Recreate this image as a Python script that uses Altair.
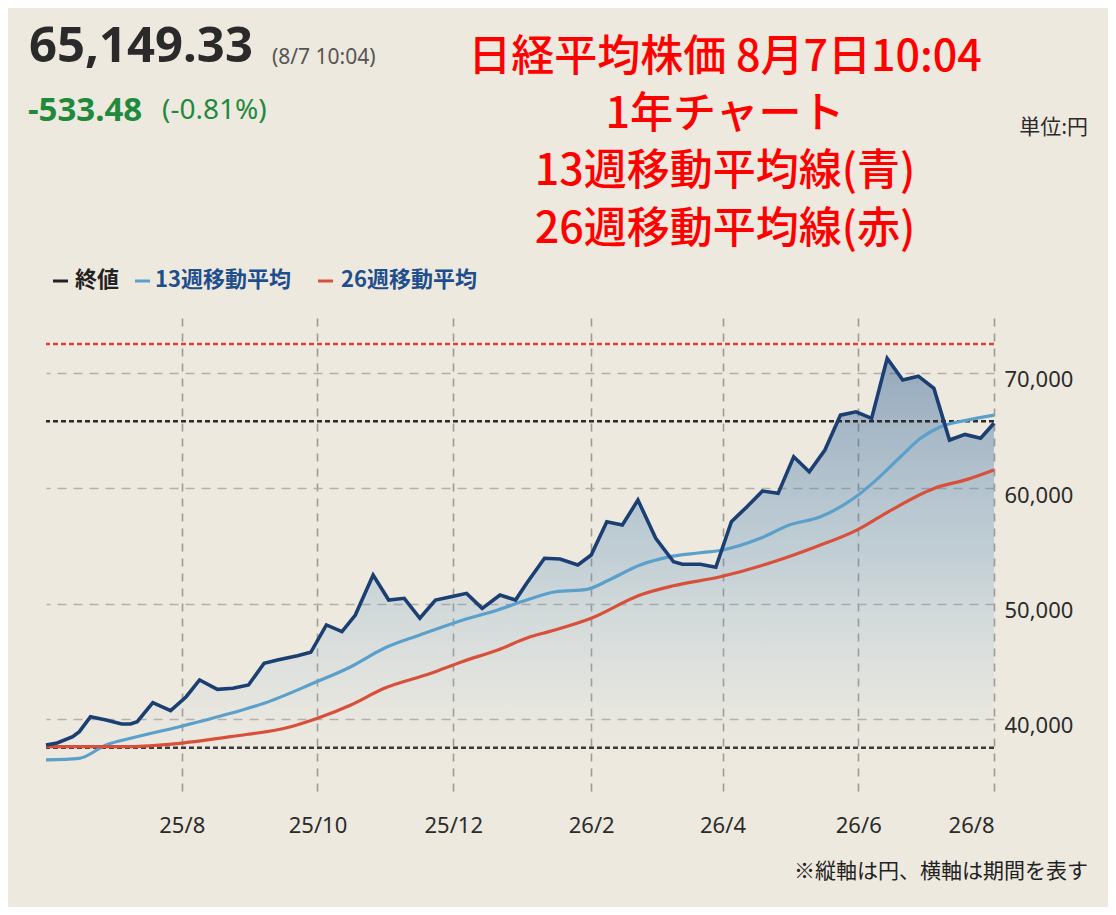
import altair as alt
import pandas as pd

# ---- data ----
price_dates = [
    "2025-06-01", "2025-06-06", "2025-06-13", "2025-06-16", "2025-06-21", "2025-06-28",
    "2025-07-05", "2025-07-09", "2025-07-12", "2025-07-19", "2025-07-27", "2025-08-03",
    "2025-08-09", "2025-08-17", "2025-08-24", "2025-08-31", "2025-09-07", "2025-09-13",
    "2025-09-22", "2025-09-28", "2025-10-05", "2025-10-12", "2025-10-18", "2025-10-26",
    "2025-11-02", "2025-11-09", "2025-11-16", "2025-11-23", "2025-11-30", "2025-12-07",
    "2025-12-14", "2025-12-22", "2025-12-29", "2026-01-03", "2026-01-11", "2026-01-18",
    "2026-01-26", "2026-02-01", "2026-02-08", "2026-02-15", "2026-02-22", "2026-03-02",
    "2026-03-10", "2026-03-14", "2026-03-22", "2026-03-29", "2026-04-05", "2026-04-12",
    "2026-04-19", "2026-04-26", "2026-05-03", "2026-05-10", "2026-05-17", "2026-05-24",
    "2026-05-31", "2026-06-07", "2026-06-14", "2026-06-21", "2026-06-28", "2026-07-05",
    "2026-07-12", "2026-07-19", "2026-07-26", "2026-08-01",
]
price_vals = [
    37740, 37910, 38460, 38890, 40190, 39900,
    39560, 39560, 39760, 41400, 40710, 41920,
    43370, 42560, 42650, 42940, 44820, 45100,
    45480, 45770, 48140, 47560, 49000, 52470,
    50300, 50450, 48720, 50300, 50590, 50880,
    49580, 50740, 50300, 51750, 53920, 53860,
    53340, 54200, 57090, 56800, 58970, 55650,
    53620, 53400, 53400, 53140, 57090, 58390,
    59750, 59550, 62720, 61420, 63300, 66330,
    66620, 66050, 71250, 69370, 69710, 68650,
    64170, 64660, 64320, 65620,
]

ma13_dates = [
    "2025-06-01", "2025-06-16", "2025-06-28", "2025-07-09", "2025-07-31", "2025-08-23",
    "2025-09-07", "2025-09-29", "2025-10-16", "2025-10-31", "2025-11-16", "2025-12-03",
    "2025-12-21", "2026-01-03", "2026-01-16", "2026-01-30", "2026-02-09", "2026-02-23",
    "2026-03-07", "2026-03-22", "2026-04-01", "2026-04-18", "2026-05-01", "2026-05-15",
    "2026-05-30", "2026-06-09", "2026-06-20", "2026-06-29", "2026-07-08", "2026-07-20",
    "2026-08-01",
]
ma13_vals = [
    36440, 36580, 37740, 38320, 39320, 40480,
    41350, 43080, 44520, 46120, 47270, 48420,
    49440, 50300, 51020, 51230, 52040, 53340,
    54000, 54400, 54640, 55650, 56800, 57520,
    59120, 60700, 62720, 64320, 65320, 65900,
    66330,
]

ma26_dates = [
    "2025-06-01", "2025-07-09", "2025-07-31", "2025-08-23", "2025-09-19", "2025-10-01",
    "2025-10-16", "2025-10-31", "2025-11-21", "2025-12-05", "2025-12-21", "2026-01-04",
    "2026-01-13", "2026-02-01", "2026-02-23", "2026-03-10", "2026-03-31", "2026-04-24",
    "2026-05-13", "2026-06-01", "2026-06-12", "2026-07-05", "2026-07-20", "2026-08-01",
]
ma26_vals = [
    37590, 37590, 37880, 38460, 39320, 40050,
    41200, 42650, 43950, 44960, 45970, 47070,
    47560, 48720, 50740, 51540, 52320, 53620,
    54920, 56430, 57670, 59980, 60760, 61570,
]

ref_levels = [72500, 65800, 37500]
ref_colors = ["#d9443a", "#2b2b2b", "#3a3a3a"]

y_ticks = [40000, 50000, 60000, 70000]
x_tick_dates = ["2025-08-01", "2025-10-01", "2025-12-01", "2026-02-01",
                "2026-04-01", "2026-06-01", "2026-08-01"]

title_lines = ["日経平均株価 8月7日10:04", "1年チャート",
               "13週移動平均線(青)", "26週移動平均線(赤)"]
legend_labels = ["終値", "13週移動平均", "26週移動平均"]

# ---- layout ----
W, H = 948, 477
PAD_L, PAD_T = 38, 310
Y_MIN, Y_MAX = 33400, 74750
BG = "#eee9df"
JP = "Noto Sans CJK JP"

price_df = pd.DataFrame({"date": price_dates, "v": price_vals})
ma13_df = pd.DataFrame({"date": ma13_dates, "v": ma13_vals})
ma26_df = pd.DataFrame({"date": ma26_dates, "v": ma26_vals})
ref_df = pd.DataFrame({"v": ref_levels, "c": ref_colors})

xscale = alt.Scale(type="utc", domain=["2025-06-01", "2026-08-01"])
yscale = alt.Scale(domain=[Y_MIN, Y_MAX], zero=False, nice=False)

x_axis = alt.Axis(
    values=[pd.Timestamp(d).value // 10**6 for d in x_tick_dates],
    format="%y/%-m", title=None, domain=False, ticks=False,
    labelFont="Noto Sans", labelFontSize=22, labelColor="#2b2b2b", labelPadding=20,
    grid=True, gridDash=[8, 7], gridColor="#9f9a93", gridWidth=1.6,
)
y_axis = alt.Axis(
    values=y_ticks, orient="right", format=",d", title=None, domain=False, ticks=False,
    labelFont="Noto Sans", labelFontSize=22, labelColor="#2b2b2b", labelPadding=10,
    labelOffset=7, grid=True, gridDash=[9, 7], gridColor="#b3aea6", gridWidth=1.6,
)

X = alt.X("date:T", scale=xscale, axis=x_axis)
Y = alt.Y("v:Q", scale=yscale, axis=y_axis)

area = alt.Chart(price_df).mark_area(
    clip=True,
    color=alt.Gradient(
        gradient="linear", x1=1, x2=1, y1=0, y2=1,
        stops=[alt.GradientStop(color="rgba(40,90,145,0.45)", offset=0),
               alt.GradientStop(color="rgba(90,145,190,0.30)", offset=0.45),
               alt.GradientStop(color="rgba(150,190,215,0.14)", offset=0.75),
               alt.GradientStop(color="rgba(210,225,230,0.0)", offset=0.95)],
    ),
).encode(x=X, y=Y, y2=alt.datum(Y_MIN))

refs = alt.Chart(ref_df).mark_rule(strokeDash=[5, 3], strokeWidth=2.6).encode(
    y=alt.Y("v:Q", scale=yscale),
    color=alt.Color("c:N", scale=None),
)

line13 = alt.Chart(ma13_df).mark_line(color="#5aa0cb", strokeWidth=3.2, interpolate="monotone").encode(
    x=alt.X("date:T", scale=xscale), y=alt.Y("v:Q", scale=yscale))
line26 = alt.Chart(ma26_df).mark_line(color="#d9503a", strokeWidth=3.2, interpolate="monotone").encode(
    x=alt.X("date:T", scale=xscale), y=alt.Y("v:Q", scale=yscale))
price = alt.Chart(price_df).mark_line(color="#1b3f72", strokeWidth=3.6, strokeJoin="miter").encode(
    x=alt.X("date:T", scale=xscale), y=alt.Y("v:Q", scale=yscale))


def txt(s, px, py, size, color, weight="normal", align="left", font=JP, baseline="middle"):
    return alt.Chart(pd.DataFrame({"t": [s]})).mark_text(
        align=align, baseline=baseline, fontSize=size, font=font, fontWeight=weight, color=color
    ).encode(x=alt.value(px - 8 - PAD_L), y=alt.value(py - 8 - PAD_T), text="t:N")


def dash(px1, px2, py, color):
    return alt.Chart(pd.DataFrame({"a": [0]})).mark_rule(color=color, strokeWidth=3).encode(
        x=alt.value(px1 - 8 - PAD_L), x2=alt.value(px2 - 8 - PAD_L), y=alt.value(py - 8 - PAD_T))


texts = [
    txt("65,149.33", 29, 47, 49, "#2a2a2a", "bold", font="Noto Sans"),
    txt("(8/7 10:04)", 272, 58, 21, "#555555", font="Noto Sans"),
    txt("-533.48", 28, 111, 33, "#1f8a3c", "bold", font="Noto Sans"),
    txt("(-0.81%)", 162, 111, 28, "#1f8a3c", font="Noto Sans"),
    txt("単位:円", 1088, 128, 21, "#2b2b2b", align="right"),
    txt("※縦軸は円、横軸は期間を表す", 1088, 872, 21, "#222222", align="right"),
    txt(legend_labels[0], 75, 280, 22, "#222222", "bold"),
    txt(legend_labels[1], 155, 280, 22, "#1f4e8c", "bold"),
    txt(legend_labels[2], 341, 280, 22, "#1f4e8c", "bold"),
    dash(53, 68, 281, "#222222"),
    dash(135, 150, 281, "#5aa0cb"),
    dash(318, 333, 281, "#d9503a"),
]
for i, (line, cy) in enumerate(zip(title_lines, [58, 115, 172, 230])):
    texts.append(txt(line, 725, cy, 43, "#ff0000", 500, align="center"))

chart = alt.layer(area, refs, line13, line26, price, *texts).properties(
    width=W, height=H,
    autosize=alt.AutoSizeParams(type="none"),
    padding={"left": PAD_L, "top": PAD_T, "right": 1100 - W - PAD_L, "bottom": 899 - H - PAD_T},
    background=BG,
).configure_view(stroke=None).resolve_scale(color="independent")

chart.save("out.html", embed_options={"renderer": "svg", "actions": False})
